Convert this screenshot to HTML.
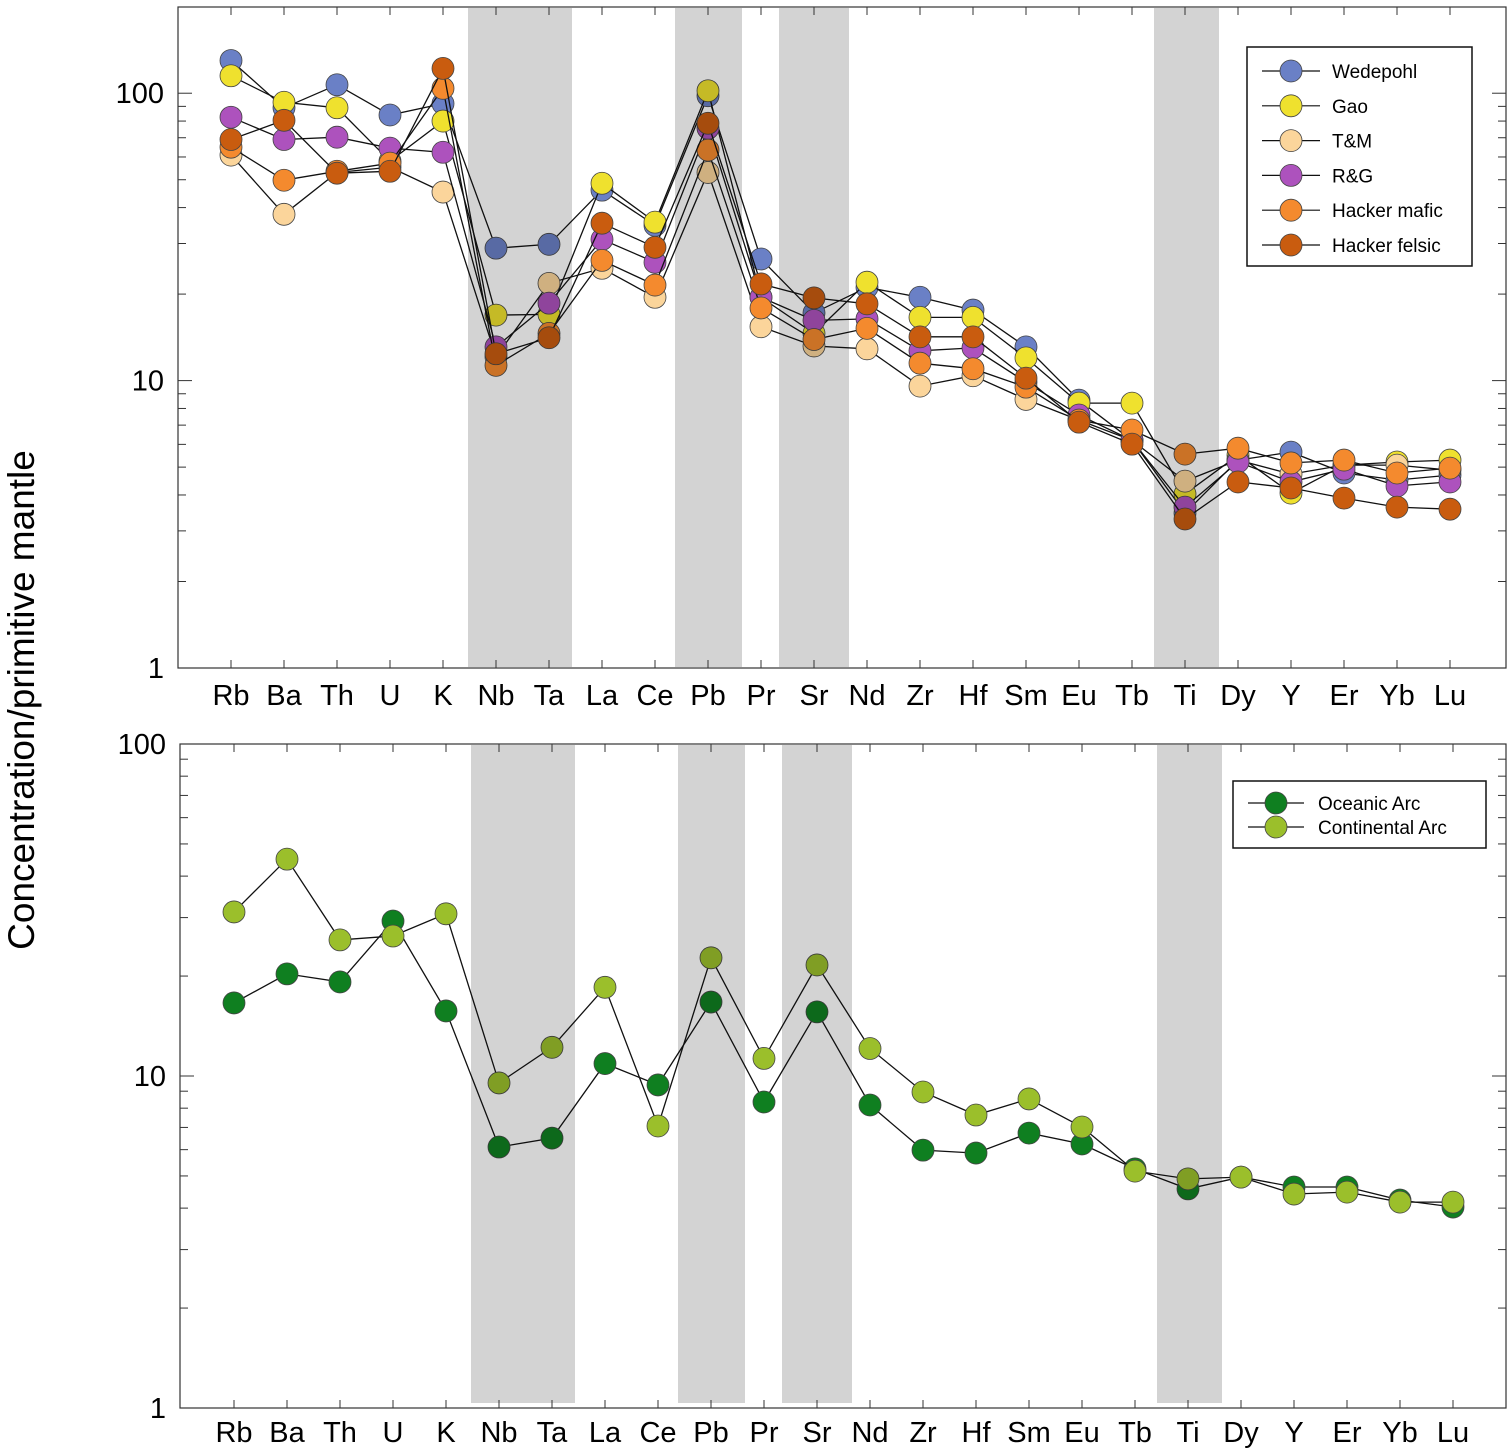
<!DOCTYPE html>
<html><head><meta charset="utf-8">
<style>
html,body{margin:0;padding:0;background:#fff;}
svg{display:block;font-family:"Liberation Sans",Arial,sans-serif;}
</style></head>
<body>
<svg id="chart" width="1512" height="1456" viewBox="0 0 1512 1456" xmlns="http://www.w3.org/2000/svg">
<rect width="1512" height="1456" fill="#fff"/>
<text x="0" y="0" transform="translate(34,700) rotate(-90)" text-anchor="middle" font-size="37" fill="#000">Concentration/primitive mantle</text>
</svg>
<script>
const elements = ["Rb","Ba","Th","U","K","Nb","Ta","La","Ce","Pb","Pr","Sr","Nd","Zr","Hf","Sm","Eu","Tb","Ti","Dy","Y","Er","Yb","Lu"];
const bandCategories = [["Nb","Ta"],["Pb","Pb"],["Sr","Sr"],["Ti","Ti"]];
const yTickLabels = [1,10,100];
const topSeriesNames = ["Wedepohl","Gao","T&M","R&G","Hacker mafic","Hacker felsic"];
const wedepohl = [130,89,107,84,92,28.9,29.8,46,34.7,98,26.5,17.2,21.1,19.5,17.6,13.1,8.55,6.2,3.46,5.29,5.64,4.77,4.51,4.69];
const gao = [115,93,89,58,80,16.9,17.0,48.6,35.6,102,19.5,14.6,22.0,16.6,16.6,12.0,8.35,8.35,4.03,5.5,4.06,5.08,5.21,5.29];
const tm = [60.9,37.9,53,55.3,45.3,12.1,21.8,24.6,19.5,53,15.4,13.2,12.9,9.57,10.4,8.6,7.29,6.2,4.47,5.29,4.73,5.08,5.08,4.88];
const rg = [82.5,69,70.3,64.4,62.3,13.1,18.6,31,25.8,75.5,19.5,16.2,16.4,12.7,13.0,9.88,7.59,6.2,3.63,5.21,4.44,4.92,4.30,4.44];
const hackerMafic = [64.9,49.8,53.5,57.1,104,11.3,14.6,26.2,21.5,63.4,17.9,13.9,15.2,11.5,11.0,9.49,7.29,6.73,5.55,5.82,5.17,5.29,4.77,4.96];
const hackerFelsic = [69,80.5,52.7,53.5,122,12.4,14.1,35.3,29.1,78.6,21.7,19.4,18.5,14.2,14.2,10.2,7.17,6.01,3.30,4.44,4.23,3.90,3.63,3.57];
const bottomSeriesNames = ["Oceanic Arc","Continental Arc"];
const oceanicArc = [16.6,20.3,19.2,29.3,15.7,6.11,6.5,10.9,9.4,16.7,8.35,15.6,8.18,5.98,5.86,6.73,6.24,5.25,4.57,4.96,4.63,4.63,4.23,4.03];
const continentalArc = [31.2,45,25.7,26.4,30.8,9.53,12.2,18.5,7.07,22.7,11.3,21.6,12.1,8.95,7.63,8.53,7.02,5.17,4.9,4.96,4.41,4.47,4.17,4.17];

const NS = "http://www.w3.org/2000/svg";
const svg = document.getElementById("chart");
function mk(tag, attrs, parent){
  const e = document.createElementNS(NS, tag);
  for (const k in attrs) e.setAttribute(k, attrs[k]);
  (parent||svg).appendChild(e);
  return e;
}

function panel(cfg){
  const g = mk("g", {});
  
  
  const xOf = i => cfg.x0 + cfg.dx * i;
  const yOf = v => cfg.yBottom - (Math.log10(v) - Math.log10(cfg.vmin)) / (Math.log10(cfg.vmax) - Math.log10(cfg.vmin)) * (cfg.yBottom - cfg.yTop);
  const L = cfg.left, R = cfg.right, T = cfg.top, B = cfg.bottom;
  cfg.series.forEach((s, si) => {
    const sg = mk("g", {}, g);
    
    
    const pts = s.values.map((v, i) => xOf(i).toFixed(1) + "," + yOf(v).toFixed(1)).join(" ");
    const pl = mk("polyline", {points: pts, fill: "none", stroke: "#111", "stroke-width": 1.3}, sg);
    
    
    s.values.forEach((v, i) => {
      const c = mk("circle", {cx: xOf(i), cy: yOf(v), r: 11, fill: s.color, stroke: "#444", "stroke-width": 0.8}, sg);
      
      
    });
  });
  bandCategories.forEach(b => {
    const i0 = elements.indexOf(b[0]), i1 = elements.indexOf(b[1]);
    const padL = b[0] === "Nb" ? 28 : (b[0] === "Ti" ? 31 : (b[0] === "Sr" ? 35 : 33));
    const padR = b[0] === "Nb" ? 23 : (b[0] === "Sr" ? 35 : 34);
    const x0 = xOf(i0) - padL, x1 = xOf(i1) + padR;
    const r = mk("rect", {x: x0, y: T + 1, width: x1 - x0, height: cfg.bandBottom - T - 1, fill: "#d3d3d3", style: "mix-blend-mode:multiply"}, g);
    
    
  });
  const fr = mk("rect", {x: L, y: T, width: R - L, height: B - T, fill: "none", stroke: "#333", "stroke-width": 1.2}, g);
  
  
  elements.forEach((e, i) => {
    const x = xOf(i);
    mk("line", {x1: x, x2: x, y1: B, y2: B - 8, stroke: "#333", "stroke-width": 1}, g);
    mk("line", {x1: x, x2: x, y1: T, y2: T + 8, stroke: "#333", "stroke-width": 1}, g);
    const t = mk("text", {x: x, y: cfg.labelY, "text-anchor": "middle", "font-size": 29}, g);
    t.textContent = e;
    
    
  });
  for (let d = Math.log10(cfg.vmin); d < Math.log10(cfg.vmax); d++) {
    for (let m = 1; m <= 9; m++) {
      const v = m * Math.pow(10, d);
      if (v > cfg.vmax) break;
      const y = yOf(v); const len = m === 1 ? 14 : 8;
      mk("line", {x1: L, x2: L + len, y1: y, y2: y, stroke: "#333", "stroke-width": 1}, g);
      mk("line", {x1: R, x2: R - len, y1: y, y2: y, stroke: "#333", "stroke-width": 1}, g);
    }
  }
  yTickLabels.forEach(v => {
    if (v > cfg.vmax) return;
    const t = mk("text", {x: L - 14, y: yOf(v) + 10, "text-anchor": "end", "font-size": 29}, g);
    t.textContent = v;
    
    
  });
  const lg = mk("g", {}, g);
  
  
  const lb = cfg.legend;
  mk("rect", {x: lb.x, y: lb.y, width: lb.w, height: lb.h, fill: "#fff", stroke: "#111", "stroke-width": 1.5}, lg);
  cfg.series.forEach((s, si) => {
    const y = lb.y0 + lb.dy * si;
    const eg = mk("g", {}, lg);
    
    
    mk("line", {x1: lb.lx1, x2: lb.lx2, y1: y, y2: y, stroke: "#111", "stroke-width": 1.2}, eg);
    mk("circle", {cx: (lb.lx1 + lb.lx2) / 2, cy: y, r: 11, fill: s.color, stroke: "#444", "stroke-width": 0.8}, eg);
    const t = mk("text", {x: lb.tx, y: y + 7, "font-size": 19}, eg);
    t.textContent = s.name;
  });
}

panel({
  name: "top-panel", left: 178, right: 1506, top: 7, bottom: 668, bandBottom: 667,
  x0: 231, dx: 53, vmin: 1, vmax: 10 ** 2.3, yTop: 7, yBottom: 668, labelY: 705,
  series: [
    {key: "wedepohl", name: topSeriesNames[0], values: wedepohl, color: "#6a80c6"},
    {key: "gao", name: topSeriesNames[1], values: gao, color: "#efe12e"},
    {key: "tm", name: topSeriesNames[2], values: tm, color: "#fbd59b"},
    {key: "rg", name: topSeriesNames[3], values: rg, color: "#ad52bd"},
    {key: "hacker-mafic", name: topSeriesNames[4], values: hackerMafic, color: "#f48a2e"},
    {key: "hacker-felsic", name: topSeriesNames[5], values: hackerFelsic, color: "#c95c0f"}
  ],
  legend: {x: 1247, y: 47, w: 225, h: 219, y0: 71, dy: 34.8, lx1: 1262, lx2: 1320, tx: 1332}
});
panel({
  name: "bottom-panel", left: 180, right: 1506, top: 744, bottom: 1408, bandBottom: 1403,
  x0: 234, dx: 53, vmin: 1, vmax: 100, yTop: 744, yBottom: 1408, labelY: 1442,
  series: [
    {key: "oceanic-arc", name: bottomSeriesNames[0], values: oceanicArc, color: "#0f7f20"},
    {key: "continental-arc", name: bottomSeriesNames[1], values: continentalArc, color: "#9bbf2b"}
  ],
  legend: {x: 1233, y: 781, w: 253, h: 67, y0: 803, dy: 24, lx1: 1248, lx2: 1304, tx: 1318}
});
</script>
</body></html>
